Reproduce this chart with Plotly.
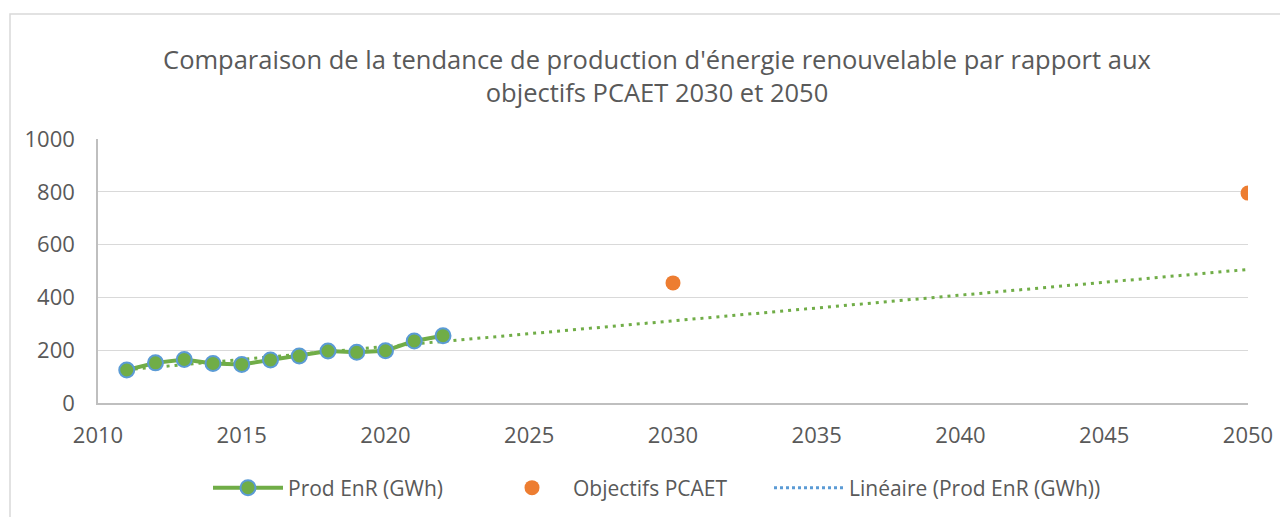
import numpy as np
import plotly.graph_objects as go

years = [2011, 2012, 2013, 2014, 2015, 2016, 2017, 2018, 2019, 2020, 2021, 2022]
prod_enr = [125, 152, 165, 150, 146, 163, 178, 197, 192, 198, 235, 255]
obj_years = [2030, 2050]
obj_values = [455, 795]
trend_end_year = 2050
x_ticks = [2010, 2015, 2020, 2025, 2030, 2035, 2040, 2045, 2050]
y_ticks = [0, 200, 400, 600, 800, 1000]

title_text = "Comparaison de la tendance de production d'énergie renouvelable par rapport aux<br>objectifs PCAET 2030 et 2050"

# Linear trendline (least squares) like the spreadsheet's "Linéaire" trend
slope, intercept = np.polyfit(years, prod_enr, 1)
trend_x = [years[0], trend_end_year]
trend_y = [intercept + slope * x for x in trend_x]

GREEN = "#70AD47"
BLUE = "#5B9BD5"
ORANGE = "#ED7D31"
TXT = "#595959"
FONT = "Open Sans"

OFF = 8  # page body margin
W, H = 1288 - OFF, 517 - OFF
L, R, T, B = 98 - OFF, 1248 - OFF, 139 - OFF, 403 - OFF

fig = go.Figure()

fig.add_trace(go.Scatter(
    x=trend_x, y=trend_y, mode="lines",
    line=dict(color=GREEN, width=3, dash="3px,5px"),
    showlegend=False, hoverinfo="skip"))

fig.add_trace(go.Scatter(
    x=years, y=prod_enr, mode="lines+markers", name="Prod EnR (GWh)",
    line=dict(color=GREEN, width=4),
    marker=dict(size=15, color=GREEN, line=dict(color=BLUE, width=2)),
    legend="legend"))

fig.add_trace(go.Scatter(
    x=obj_years, y=obj_values, mode="markers", name="Objectifs PCAET",
    marker=dict(size=15, color=ORANGE), legend="legend2"))

fig.add_trace(go.Scatter(
    x=[None], y=[None], mode="lines", name="Linéaire (Prod EnR (GWh))",
    line=dict(color=BLUE, width=3, dash="3px,3px"), legend="legend3"))

pw = R - L
ph = B - T
def px_x(p):
    return (p - OFF - L) / pw
def px_y(p):
    return (B - (p - OFF)) / ph
def cx(p):
    return (p - OFF) / W
def cy(p):
    return 1 - (p - OFF) / H

leg_font = dict(family=FONT, size=21, color=TXT)
leg_y = cy(488)
leg_common = dict(y=leg_y, xanchor="left", yanchor="middle", xref="container",
                  yref="container", orientation="h", font=leg_font,
                  bgcolor="rgba(0,0,0,0)")

fig.update_layout(
    width=W, height=H,
    margin=dict(l=L, r=W - R, t=T, b=H - B, autoexpand=False),
    paper_bgcolor="white", plot_bgcolor="white",
    title=dict(text=title_text, x=cx(657), xanchor="center", xref="container",
               y=1 - 61 / H, yanchor="middle", yref="container",
               font=dict(family=FONT, size=25.5, color=TXT)),
    xaxis=dict(range=[2010, 2050], tickvals=x_ticks, showgrid=False,
               showline=True, linecolor="#BFBFBF", linewidth=1.5,
               zeroline=False, ticks="", ticklabelstandoff=12,
               tickfont=dict(family=FONT, size=22, color=TXT)),
    yaxis=dict(range=[0, 1000], tickvals=y_ticks, showgrid=True,
               gridcolor="#D9D9D9", gridwidth=1.3,
               showline=True, linecolor="#BFBFBF", linewidth=1.5,
               zeroline=False, ticks="", ticklabelstandoff=17,
               tickfont=dict(family=FONT, size=22, color=TXT)),
    legend=dict(x=cx(208), itemwidth=70, **leg_common),
    legend2=dict(x=cx(491), itemwidth=72, **leg_common),
    legend3=dict(x=cx(769), itemwidth=70, **leg_common),
    shapes=[dict(type="rect", xref="paper", yref="paper",
                 x0=px_x(10), x1=px_x(1310), y0=px_y(540), y1=px_y(14),
                 line=dict(color="#D9D9D9", width=1.5), layer="below")],
    showlegend=True,
)

fig.write_html("out.html")
